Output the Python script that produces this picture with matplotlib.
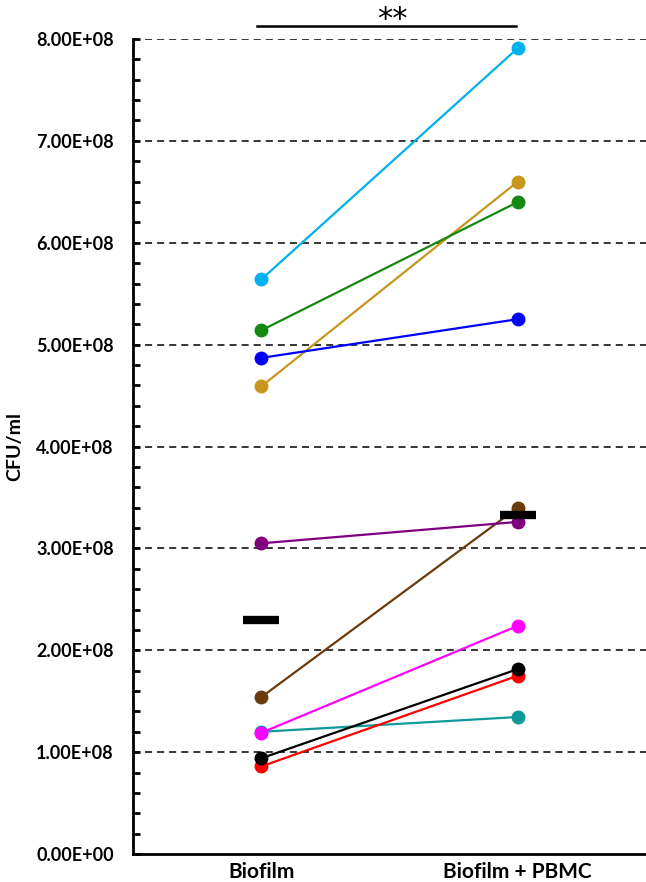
import numpy as np
import matplotlib
matplotlib.use("Agg")
import matplotlib.pyplot as plt
from matplotlib.ticker import MultipleLocator, FuncFormatter

plt.rcParams['font.family'] = ['Lato', 'DejaVu Sans']

groups = ['Biofilm', 'Biofilm + PBMC']

# CFU/ml per donor, (Biofilm, Biofilm + PBMC), in units of 1e8
brown = [1.54, 3.40]
teal = [1.20, 1.345]
magenta = [1.19, 2.24]
red = [0.86, 1.75]
black = [0.94, 1.815]
purple = [3.05, 3.26]
gold = [4.59, 6.60]
blue = [4.87, 5.25]
green = [5.14, 6.40]
cyan = [5.64, 7.91]

series = [
    (brown, '#6B3A0D'),
    (teal, '#10999A'),
    (magenta, '#FF00FF'),
    (red, '#FF0000'),
    (black, '#000000'),
    (purple, '#800080'),
    (gold, '#C8961C'),
    (blue, '#0000FF'),
    (green, '#128A12'),
    (cyan, '#00B0F0'),
]

fig = plt.figure(figsize=(6.46, 8.82), dpi=100)
ax = fig.add_axes([0.206, 0.0317, 0.794, 0.9241])

x = np.arange(len(groups))
for vals, col in series:
    ax.plot(x, np.array(vals) * 1e8, color=col, lw=1.6, marker='o',
            markersize=9, zorder=3)

# medians
allvals = np.array([s[0] for s in series]) * 1e8
med = np.median(allvals, axis=0)
for xi, m in zip(x, med):
    ax.hlines(m, xi - 0.07, xi + 0.07, color='black', lw=6, zorder=5)

ax.set_xlim(-0.5, 1.5)
ax.set_ylim(0, 8e8)
ax.yaxis.set_major_locator(MultipleLocator(1e8))
ax.yaxis.set_minor_locator(MultipleLocator(2e7))
ax.yaxis.set_major_formatter(FuncFormatter(lambda v, p: f"{v:.2E}"))
ax.set_xticks(x)
ax.set_xticklabels(groups, fontsize=15, fontweight='bold')
for lab in ax.get_yticklabels():
    lab.set_fontweight('bold')
ax.tick_params(axis='y', which='both', direction='in', width=2,
               labelsize=13, pad=14)
ax.tick_params(axis='y', which='major', length=5)
ax.tick_params(axis='y', which='minor', length=5)
ax.tick_params(axis='x', length=0, pad=6)

for yv in np.arange(1, 9) * 1e8:
    ax.axhline(yv, color='black', lw=1.1, ls=(0, (4.6, 3.3)), zorder=1)

ax.spines['top'].set_visible(False)
ax.spines['right'].set_visible(False)
ax.spines['left'].set_linewidth(2)
ax.spines['bottom'].set_linewidth(2)

ax.set_ylabel('CFU/ml', fontsize=14, fontweight='bold')
ax.yaxis.set_label_coords(-0.215, 0.5)

# significance bar
ax.plot([-0.015, 0.995], [8.13e8, 8.13e8], color='black', lw=1.8,
        clip_on=False)
ax.text(0.51, 8.11e8, '**', ha='center', va='baseline', fontsize=22,
        family='DejaVu Sans', clip_on=False)

fig.savefig('out.png', dpi=100)
